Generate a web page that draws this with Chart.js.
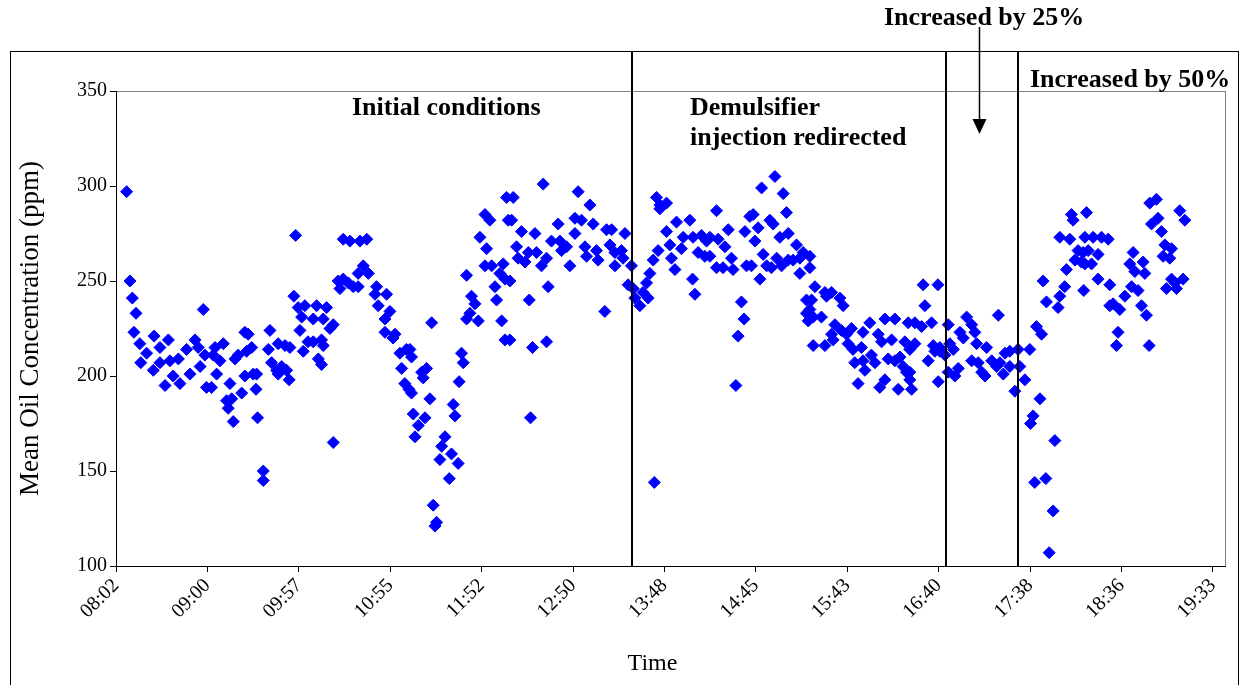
<!DOCTYPE html>
<html>
<head>
<meta charset="utf-8">
<script src="https://cdn.jsdelivr.net/npm/chart.js@4.4.1/dist/chart.umd.min.js"></script>
<style>
html, body { margin: 0; padding: 0; background: #fff; }
#wrap { width: 1244px; height: 685px; }
</style>
</head>
<body>
<div id="wrap"><canvas id="oilChart" width="1244" height="685"></canvas></div>
<script>
// sample times, minutes after midnight
var timeMin = [
	488.7, 490.8, 492.3, 494.6, 493.3, 497.0, 501.3, 497.6, 506.0, 509.7,
	515.0, 505.5, 509.7, 512.9, 516.0, 518.0, 521.3, 522.3, 526.5, 528.6,
	531.8, 533.8, 537.0, 538.0, 535.0, 539.0,
	542.2, 543.3, 544.4, 545.4, 547.5, 549.6, 551.7, 552.7, 553.8, 554.9,
	555.9, 557.0, 559.0, 561.2, 563.2, 563.2, 564.3, 565.3, 567.5, 568.5,
	570.2, 570.6, 571.2, 574.8, 574.8, 578.0, 579.0, 580.0, 583.2, 584.2,
	584.2, 586.4, 588.5, 589.5, 591.1, 591.6, 594.1, 595.2, 596.8, 597.9,
	599.0, 600.0, 601.0, 603.0,
	606.3, 606.3, 608.4, 609.5, 611.5, 611.5, 612.6, 612.6, 614.7, 616.8,
	618.9, 618.9, 622.0, 623.1, 625.2, 625.2, 628.4, 629.4, 631.5, 634.6,
	634.6, 635.7, 637.8, 640.0, 641.0, 645.2, 646.2, 647.2, 651.5, 651.5,
	652.5, 654.6, 656.6, 657.8, 660.9, 662.0, 664.0, 665.0, 666.6,
	667.2, 668.2, 668.2, 669.3, 670.4, 672.5, 674.6, 675.6, 676.7, 677.7,
	679.8, 680.9, 681.9, 683.0, 684.0, 686.1, 687.2, 689.3, 692.0, 693.4,
	694.5, 695.6, 697.6, 698.2, 699.7, 700.8, 702.9, 702.9, 705.0, 706.0,
	708.2, 710.3, 711.3, 714.5, 714.5, 715.5, 717.6, 718.7, 720.8, 721.8,
	723.9, 725.0, 726.0, 727.1, 727.1, 728.1, 729.2,
	730.2, 730.2, 731.3, 732.3, 734.4, 735.4, 737.5, 739.7, 741.8, 742.4,
	743.2, 744.5, 746.0, 747.0, 750.1, 751.2, 753.3, 753.3, 754.3, 756.4,
	760.6, 761.7, 762.7, 765.9, 768.0, 771.2, 771.2, 773.2, 775.3, 777.5,
	778.5, 780.6, 782.7, 784.8, 785.8, 790.0, 791.1,
	793.2, 794.3, 796.4, 796.4, 800.5, 801.5, 802.7, 804.7, 806.8, 807.9,
	808.9, 812.1, 814.1, 816.3, 817.3, 818.4, 820.5, 821.2, 822.6, 823.6,
	824.7, 824.7, 828.9, 828.9, 831.0, 832.0, 834.2, 835.2, 838.3, 839.4,
	843.6, 845.3, 845.6, 846.8, 848.8, 850.9, 853.0, 854.1,
	856.2, 856.2, 860.4, 860.4, 861.4, 864.5, 865.7, 867.8, 869.8, 870.8,
	872.6, 874.0, 876.1, 877.8, 878.3, 879.3, 881.4, 882.4, 883.5, 884.6,
	886.6, 887.7, 888.8, 889.8, 892.0, 894.0, 895.0, 896.1, 897.2, 898.3,
	900.3, 901.4, 902.4, 904.5, 905.6, 905.6, 908.7, 910.8, 912.9, 912.9,
	915.0, 917.1, 917.1, 918.2,
	919.2, 919.2, 919.2, 920.3, 921.3, 921.3, 922.4, 926.5, 928.7, 928.7,
	929.7, 932.9, 932.9, 933.9, 935.0, 938.1, 939.1, 940.2, 942.3, 943.3,
	945.4, 946.4, 947.5, 949.6, 951.7, 952.7, 952.7, 953.9, 957.0, 958.0,
	960.2, 962.3, 963.3, 964.4, 966.5, 966.5, 968.6, 970.7, 972.8, 972.8,
	974.9, 976.0, 978.0, 979.1, 980.1, 981.2, 982.2,
	982.2, 982.2, 983.3, 985.4, 985.4, 989.6, 990.6, 991.7, 993.8, 995.9,
	997.0, 998.0, 999.9, 1000.1, 1001.1, 1001.1, 1004.3, 1006.4, 1006.4, 1007.4,
	1009.6, 1010.6, 1012.7, 1013.8, 1015.9, 1018.0, 1021.2, 1021.2, 1023.2, 1024.3,
	1025.3, 1027.5, 1029.6, 1030.6, 1033.8, 1036.9, 1038.0, 1039.0, 1041.1, 1042.2,
	1045.2, 1045.2, 1048.4, 1050.4, 1051.5, 1054.7, 1057.8, 1058.3, 1059.9, 1060.9,
	1062.0, 1064.2, 1065.2, 1066.2, 1067.9, 1068.3, 1070.0, 1072.5, 1073.6, 1075.6,
	1076.7, 1076.7, 1079.8, 1080.9, 1083.0, 1084.0, 1085.1, 1086.2, 1088.2, 1090.3,
	1091.4, 1091.8, 1092.5, 1092.5, 1093.5, 1094.6, 1096.7, 1097.7, 1100.8, 1100.8,
	1103.0, 1107.2, 1108.2,
	1108.2, 1110.3, 1112.4, 1113.4, 1114.5, 1117.7, 1120.8, 1121.9, 1122.9, 1124.0,
	1126.0, 1128.2, 1129.2, 1130.3, 1131.3, 1133.0, 1133.4, 1134.5, 1137.6, 1138.6,
	1140.8, 1141.8, 1142.9, 1143.9, 1146.0, 1147.1, 1147.1, 1149.2, 1150.2, 1152.3,
	1154.4, 1155.5
];

// mean oil concentration, ppm
var oilPpm = [
	297, 250, 241, 233, 223, 217, 212, 207, 221, 215,
	219, 203, 207, 195, 208, 200, 209, 196, 214, 201,
	219, 215, 235, 211, 205, 194,
	194, 211, 215, 201, 208, 217, 187, 183, 196, 188,
	176, 209, 211, 191, 223, 200, 213, 222, 215, 201,
	193, 201, 178, 150, 145, 214, 224, 207, 203, 217,
	201, 205, 216, 203, 198, 215, 242, 274, 236, 224,
	231, 213, 237, 218,
	230, 218, 237, 209, 219, 206, 230, 216, 236, 225,
	227, 165, 250, 246, 272, 251, 249, 271, 247, 254,
	247, 271, 258, 272, 254, 243, 247, 237, 230, 223,
	243, 234, 220, 222, 212, 204, 196, 214, 193,
	214, 210, 191, 180, 168, 174, 202, 199, 178, 204,
	188, 228, 132, 121, 123, 156, 163, 168, 146, 159,
	185, 179, 154, 197, 212, 207, 253, 230, 233, 242,
	238, 229, 273, 285, 258, 267, 282, 258, 247, 240,
	254, 229, 259, 251, 219, 294, 282,
	250, 219, 282, 294, 268, 262, 276, 260, 265, 240,
	178, 215, 275, 265, 258, 301, 262, 218, 247, 271,
	280, 271, 266, 268, 258, 275, 283, 297, 282, 268,
	263, 290, 280, 266, 261, 234, 277,
	269, 277, 265, 258, 266, 262, 275, 248, 258, 246,
	241, 237, 244, 249, 241, 254, 261, 144, 294, 266,
	290, 288, 291, 276, 269, 262, 256, 281, 267, 273,
	282, 251, 273, 243, 265, 274, 263, 271,
	273, 263, 287, 257, 272, 257, 268, 277, 262, 256,
	195, 221, 239, 230, 276, 258, 284, 258, 285, 271,
	278, 251, 299, 264, 258, 282, 257, 280, 305, 262,
	273, 258, 296, 286, 275, 261, 261, 269, 262, 254,
	265, 240, 233, 229,
	263, 257, 235, 240, 231, 216, 247, 231, 244, 216,
	242, 244, 222, 219, 227, 241, 224, 237, 222, 217,
	225, 214, 207, 196, 215, 223, 208, 203, 228, 211,
	207, 222, 194, 218, 230, 198, 209, 219, 230, 208,
	193, 210, 205, 218, 202, 228, 198,
	214, 202, 193, 228, 217, 226, 248, 237, 208, 228,
	216, 213, 248, 197, 215, 213, 211, 227, 202, 217,
	214, 200, 204, 223, 220, 231, 227, 208, 223, 217,
	207, 202, 200, 215, 208, 205, 232, 207, 201, 212,
	213, 205, 192, 214, 205, 198, 214, 175, 179, 144,
	226, 188, 222, 250, 146, 239, 107, 129, 166, 236,
	242, 273, 247, 256, 272, 285, 282, 261, 266, 260,
	265, 245, 273, 259, 286, 266, 259, 273, 264, 251,
	273, 272, 237,
	248, 238, 216, 223, 235, 242, 259, 247, 265, 255,
	245, 237, 260, 254, 232, 216, 291, 280, 293, 283,
	276, 263, 269, 246, 262, 267, 251, 249, 246, 287,
	251, 282
];

var tickMin = [482, 539.6, 597.2, 654.8, 712.4, 770, 827.6, 885.2, 942.8, 1000.4, 1058, 1115.6, 1173.2];
var tickLabels = ['08:02', '09:00', '09:57', '10:55', '11:52', '12:50', '13:48', '14:45', '15:43', '16:40', '17:38', '18:36', '19:33'];

// change points (minutes after midnight) and the 25% arrow
var eventMin = [807, 1004.8, 1050.2];
var arrowMin = 1026;

var serif = '"Liberation Serif", "Times New Roman", serif';

var points = [];
for (var i = 0; i < timeMin.length; i++) {
	points.push({ x: timeMin[i], y: oilPpm[i] });
}

var framePlugin = {
	id: 'frame',
	beforeDraw: function(chart) {
		var ctx = chart.ctx, a = chart.chartArea;
		ctx.save();
		ctx.strokeStyle = '#000';
		ctx.lineWidth = 1;
		ctx.strokeRect(10.5, 51.5, 1228, 700);
		ctx.strokeStyle = '#808080';
		ctx.strokeRect(a.left + 0.5, a.top + 0.5, a.right - a.left, a.bottom - a.top);
		ctx.restore();
	},
	afterDraw: function(chart) {
		var ctx = chart.ctx, xs = chart.scales.x, a = chart.chartArea;
		ctx.save();
		ctx.strokeStyle = '#000';
		ctx.lineWidth = 2;
		eventMin.forEach(function(t) {
			var px = Math.round(xs.getPixelForValue(t));
			ctx.beginPath();
			ctx.moveTo(px, 51);
			ctx.lineTo(px, a.bottom);
			ctx.stroke();
		});
		var ax = Math.round(xs.getPixelForValue(arrowMin)) + 0.5;
		ctx.lineWidth = 1.5;
		ctx.beginPath();
		ctx.moveTo(ax, 27);
		ctx.lineTo(ax, 122);
		ctx.stroke();
		ctx.fillStyle = '#000';
		ctx.beginPath();
		ctx.moveTo(ax - 7, 119);
		ctx.lineTo(ax + 7, 119);
		ctx.lineTo(ax, 134);
		ctx.closePath();
		ctx.fill();

		ctx.font = 'bold 26px ' + serif;
		ctx.textBaseline = 'middle';
		ctx.textAlign = 'left';
		ctx.fillText('Initial conditions', 352, 108);
		ctx.fillText('Demulsifier', 690, 108);
		ctx.fillText('injection redirected', 690, 138);
		ctx.fillText('Increased by 25%', 884, 18);
		ctx.fillText('Increased by 50%', 1030, 80);
		ctx.restore();
	}
};

var ctx = document.getElementById('oilChart').getContext('2d');
var oilChart = new Chart(ctx, {
	type: 'scatter',
	data: {
		datasets: [{
			label: 'Mean Oil Concentration',
			data: points,
			pointStyle: 'rectRot',
			pointRadius: 6,
			pointBorderWidth: 1,
			backgroundColor: '#0000FF',
			borderColor: '#0000FF'
		}]
	},
	options: {
		responsive: false,
		animation: false,
		devicePixelRatio: 1,
		layout: { padding: { top: 91, right: 19, bottom: 0, left: 0 } },
		plugins: {
			legend: { display: false },
			tooltip: { enabled: false }
		},
		scales: {
			x: {
				type: 'linear',
				min: 482,
				max: 1180.8,
				afterBuildTicks: function(scale) {
					scale.ticks = tickMin.map(function(v) { return { value: v }; });
				},
				afterFit: function(scale) { scale.height = 119; },
				ticks: {
					autoSkip: false,
					minRotation: 45,
					maxRotation: 45,
					padding: 2,
					color: '#000',
					font: { family: serif, size: 20 },
					callback: function(v, i) { return tickLabels[i]; }
				},
				grid: { drawOnChartArea: false, drawTicks: true, tickLength: 6, color: '#000' },
				border: { color: '#000', width: 1 },
				title: {
					display: true,
					text: 'Time      ',
					color: '#000',
					font: { family: serif, size: 24 },
					padding: { top: 0, bottom: 7 }
				}
			},
			y: {
				min: 100,
				max: 350,
				afterFit: function(scale) { scale.width = 116; },
				ticks: {
					stepSize: 50,
					padding: 3,
					color: '#000',
					font: { family: serif, size: 20 }
				},
				grid: { drawOnChartArea: false, drawTicks: true, tickLength: 6, color: '#000' },
				border: { color: '#000', width: 1 },
				title: {
					display: true,
					text: 'Mean Oil Concentration (ppm)',
					color: '#000',
					font: { family: serif, size: 27 },
					padding: { top: 15, bottom: 0 }
				}
			}
		}
	},
	plugins: [framePlugin]
});
</script>
</body>
</html>
